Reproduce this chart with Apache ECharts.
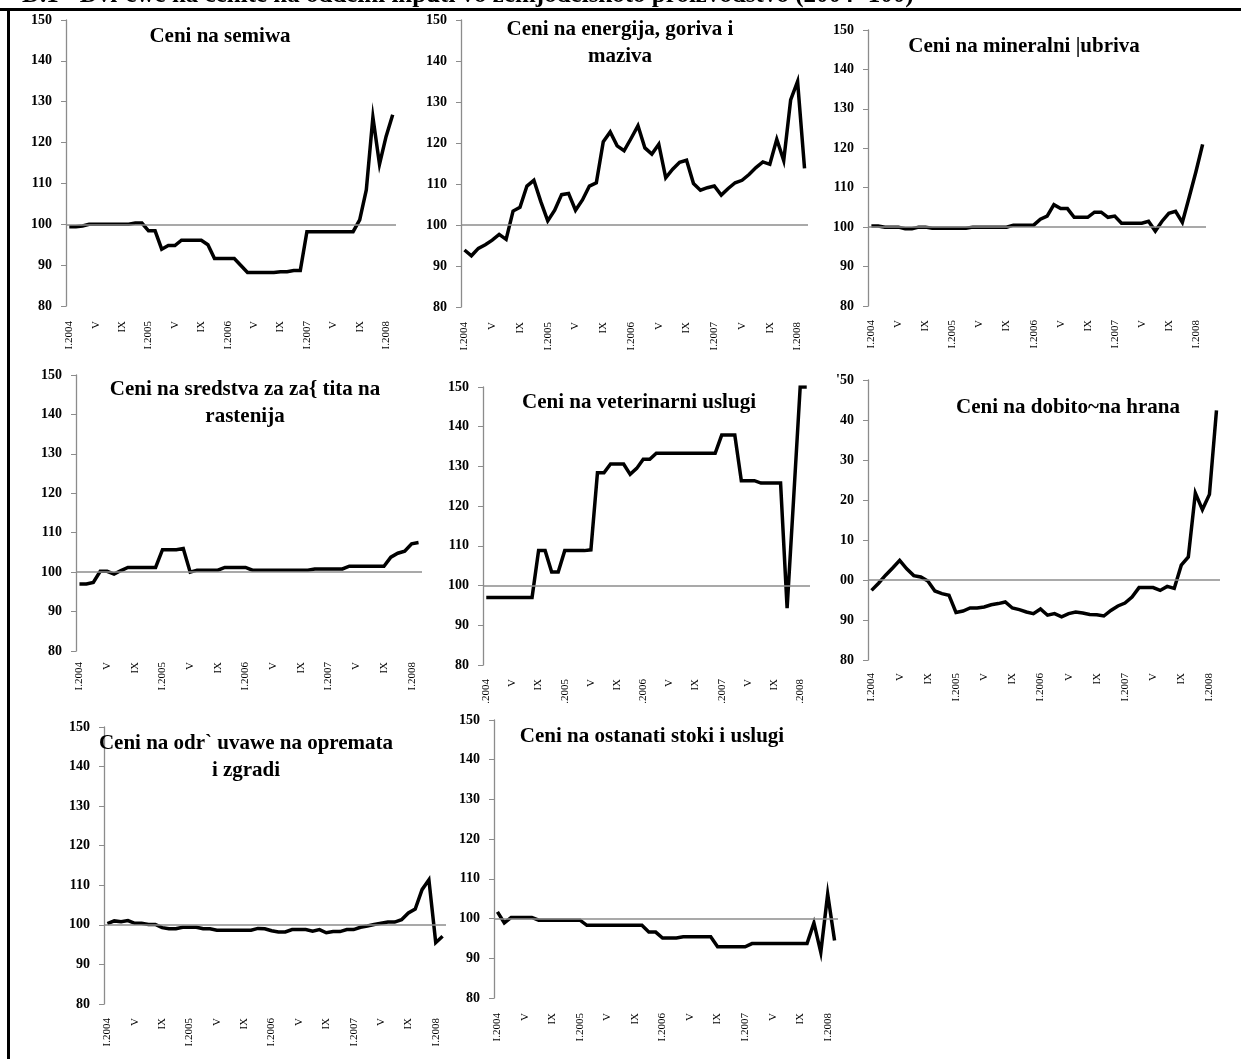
<!DOCTYPE html>
<html>
<head>
<meta charset="utf-8">
<script src="https://cdn.jsdelivr.net/npm/echarts@6/dist/echarts.min.js"></script>
<style>
html,body{margin:0;padding:0;background:#fff;}
#c{width:1241px;height:1059px;}
</style>
</head>
<body>
<div id="c"></div>
<script>
// Categories: monthly, I.2004 .. II.2008
const categories = [
  "I.2004","II","III","IV","V","VI","VII","VIII","IX","X","XI","XII",
  "I.2005","II","III","IV","V","VI","VII","VIII","IX","X","XI","XII",
  "I.2006","II","III","IV","V","VI","VII","VIII","IX","X","XI","XII",
  "I.2007","II","III","IV","V","VI","VII","VIII","IX","X","XI","XII",
  "I.2008","II"
];
const yTicks = [80, 90, 100, 110, 120, 130, 140, 150];

const semiwa = [99.4,99.4,99.6,100,100,100,100,100,100,100,
  100.3,100.3,98.4,98.4,93.9,94.8,94.8,96.1,96.1,96.1,
  96.1,95,91.6,91.6,91.6,91.6,89.9,88.2,88.2,88.2,
  88.2,88.2,88.4,88.4,88.7,88.7,98.2,98.2,98.2,98.2,
  98.2,98.2,98.2,98.2,101.1,108.4,126.2,114.7,121.5,126.8];
const energija = [93.9,92.5,94.3,95.2,96.3,97.7,96.5,103.4,104.3,109.5,
  110.9,105.7,101.0,103.6,107.4,107.7,103.6,106.1,109.5,110.3,
  120.3,122.7,119.3,118.1,121.1,124.2,118.8,117.3,119.7,111.5,
  113.6,115.3,115.8,110.1,108.5,109.1,109.5,107.3,108.9,110.3,
  110.9,112.3,114.0,115.4,114.8,120.9,115.7,130.5,135.0,113.8];
const ubriva = [100.3,100.3,100,100,100,99.6,99.6,100,100,99.7,
  99.7,99.7,99.7,99.7,99.7,100,100,100,100,100,
  100,100.5,100.5,100.5,100.5,102,102.8,105.7,104.7,104.7,
  102.5,102.5,102.5,103.8,103.8,102.5,102.8,101,101,101,
  101,101.5,99,101.5,103.5,104,101.2,107.5,114,121];
const zastita = [97,97,97.4,100.2,100.2,99.5,100.4,101.2,101.2,101.2,
  101.2,101.2,105.7,105.7,105.7,106,100,100.5,100.5,100.5,
  100.5,101.2,101.2,101.2,101.2,100.5,100.5,100.5,100.5,100.5,
  100.5,100.5,100.5,100.5,100.8,100.8,100.8,100.8,100.8,101.5,
  101.5,101.5,101.5,101.5,101.5,103.8,104.8,105.3,107.2,107.5];
const veterinarni = [97,97,97,97,97,97,97,97,108.8,108.8,
  103.4,103.4,108.8,108.8,108.8,108.8,109,128.4,128.4,130.6,
  130.6,130.6,128,129.5,131.8,131.8,133.3,133.3,133.3,133.3,
  133.3,133.3,133.3,133.3,133.3,133.3,137.9,137.9,137.9,126.4,
  126.4,126.4,125.8,125.8,125.8,125.8,94.3,122,150,150];
const hrana = [97.4,99.2,101.2,103,104.9,102.8,101.1,100.75,99.75,97.25,
  96.6,96.2,91.9,92.25,93,93,93.25,93.8,94.1,94.5,
  93,92.6,92,91.6,92.75,91.2,91.6,90.8,91.6,92,
  91.75,91.4,91.3,91,92.4,93.5,94.25,95.75,98.1,98.1,
  98.1,97.4,98.4,97.9,103.7,105.75,121.75,117.6,121.4,142.4];
const odrzuvawe = [100.3,101,100.8,101.1,100.4,100.4,100.1,100.1,99.3,99,
  99,99.4,99.4,99.4,99,99,98.65,98.65,98.65,98.65,
  98.65,98.65,99.1,99,98.5,98.2,98.2,98.8,98.8,98.8,
  98.4,98.8,98,98.3,98.3,98.8,98.8,99.4,99.7,100.1,
  100.4,100.7,100.7,101.3,103,104,108.9,111.4,95.5,97.1];
const ostanati = [101.7,98.9,100.3,100.3,100.3,100.3,99.6,99.6,99.6,99.6,
  99.6,99.6,99.6,98.3,98.3,98.3,98.3,98.3,98.3,98.3,
  98.3,98.3,96.6,96.6,95.1,95.1,95.1,95.4,95.4,95.4,
  95.4,95.4,92.9,92.9,92.9,92.9,92.9,93.7,93.7,93.7,
  93.7,93.7,93.7,93.7,93.7,93.7,98.9,91.5,106.2,94.5];

const panelTitles = [
  "Ceni na semiwa",
  "Ceni na energija, goriva i\nmaziva",
  "Ceni na mineralni |ubriva",
  "Ceni na sredstva za za{ tita na\nrastenija",
  "Ceni na veterinarni uslugi",
  "Ceni na dobito~na hrana",
  "Ceni na odr` uvawe na opremata\ni zgradi",
  "Ceni na ostanati stoki i uslugi"
];
const pageTitle = "D.1 - Dvi`ewe na cenite na oddelni inputi vo zemjodelskoto proizvodstvo (2004=100)";

const seriesList = [semiwa, energija, ubriva, zastita, veterinarni, hrana, odrzuvawe, ostanati];

// layout: plot box in px, label margin, title centre
const layout = [
  {l:66,  t:20,  r:396,  b:306, m:15, tx:220,  ty:37},
  {l:461, t:20,  r:808,  b:307, m:15, tx:620,  ty:43},
  {l:868, t:30,  r:1206, b:306, m:14, tx:1024, ty:47},
  {l:76,  t:375, r:422,  b:651, m:11, tx:245,  ty:403},
  {l:483, t:387, r:810,  b:665, m:14, tx:639,  ty:403},
  {l:868, t:380, r:1220, b:660, m:13, tx:1068, ty:408},
  {l:104, t:727, r:446,  b:1004,m:14, tx:246,  ty:757},
  {l:494, t:720, r:838,  b:998, m:15, tx:652,  ty:737}
];

const W = 1241, H = 1059;
const grids = [], xAxes = [], yAxes = [], series = [], graphics = [];
const serif = '"Liberation Serif","Times New Roman",serif';

layout.forEach((p, i) => {
  grids.push({left:p.l, top:p.t, width:p.r - p.l, height:p.b - p.t, containLabel:false});
  let xfmt = v => v;
  if (i === 4) xfmt = v => v.startsWith("I.") ? v.slice(1) : v;
  xAxes.push({
    type:'category', gridIndex:i, data:categories, boundaryGap:true,
    axisLine:{show:false}, axisTick:{show:false},
    axisLabel:{interval:3, rotate:90, margin:p.m, color:'#000',
      fontFamily:serif, fontSize:11, formatter:xfmt}
  });
  let yfmt = v => String(v);
  if (i === 5) yfmt = v => v === 150 ? "'50" : (v >= 100 ? String(v).slice(1) : String(v));
  yAxes.push({
    type:'value', gridIndex:i, min:yTicks[0], max:yTicks[yTicks.length-1], interval:10,
    axisLine:{show:true, lineStyle:{color:'#8c8c8c', width:1.3}},
    axisTick:{show:true, length:5, lineStyle:{color:'#8c8c8c', width:1}},
    splitLine:{show:false},
    axisLabel:{margin:14, color:'#000', fontFamily:serif, fontWeight:'bold', fontSize:14, formatter:yfmt}
  });
  // reference line: the horizontal axis crosses at 100
  series.push({
    type:'line', xAxisIndex:i, yAxisIndex:i, data:[], z:1, silent:true,
    markLine:{silent:true, symbol:'none', animation:false, label:{show:false},
      lineStyle:{color:'#8c8c8c', width:1.5, type:'solid'}, data:[{yAxis:100}]}
  });
  series.push({
    type:'line', xAxisIndex:i, yAxisIndex:i, data:seriesList[i], z:3,
    showSymbol:false, symbol:'none', animation:false, clip:true,
    lineStyle:{color:'#000', width:3.5, join:'miter'}
  });
  graphics.push({
    type:'text', x:p.tx, y:p.ty, z:10,
    style:{text:panelTitles[i], align:'center', verticalAlign:'middle',
      font:'bold 21px ' + serif, fill:'#000', lineHeight:27}
  });
});

// page frame and cropped heading (only its lower part shows above the rule)
graphics.push({type:'text', x:22, y:8, z:10,
  style:{text:pageTitle, align:'left', verticalAlign:'bottom', font:'bold 25px ' + serif, fill:'#000'}});
graphics.push({type:'rect', shape:{x:0, y:8, width:W, height:3}, style:{fill:'#000'}, z:11});
graphics.push({type:'rect', shape:{x:7, y:8, width:3, height:H}, style:{fill:'#000'}, z:11});

const chart = echarts.init(document.getElementById('c'), null, {renderer:'canvas'});
chart.setOption({
  animation:false,
  backgroundColor:'#fff',
  grid:grids, xAxis:xAxes, yAxis:yAxes, series:series, graphic:graphics
});
</script>
</body>
</html>
